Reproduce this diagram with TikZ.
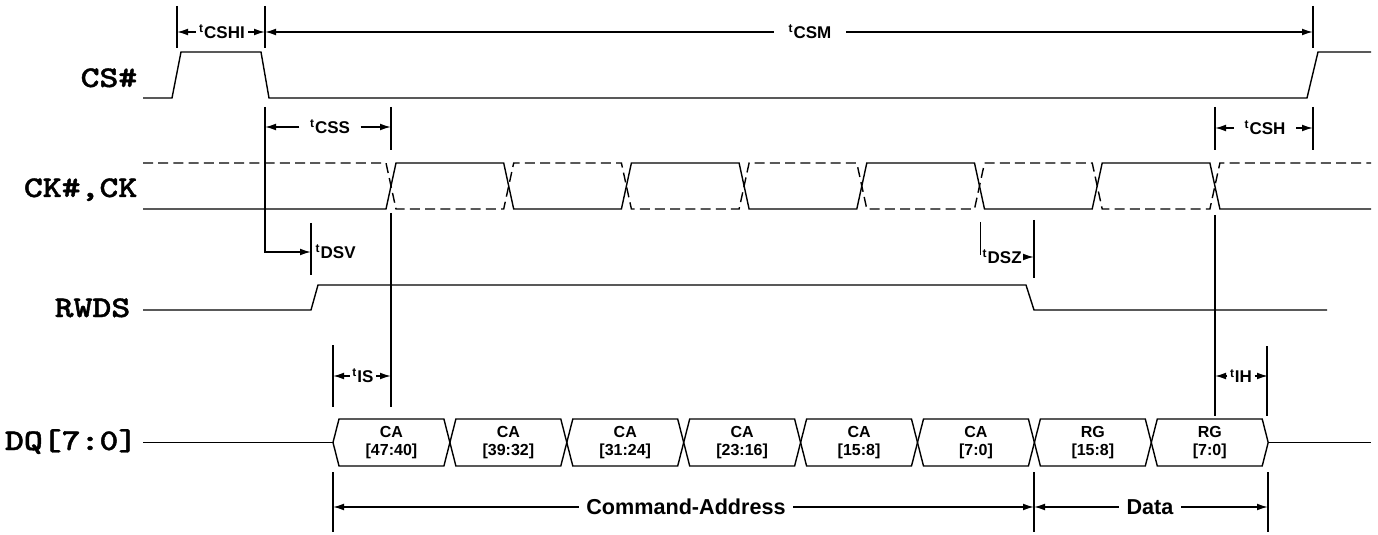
\documentclass[tikz,border=0pt]{standalone}
\usepackage{fontspec}
\setmainfont{Liberation Sans}
\newfontfamily\sigmono{lmmonolt10-bold.otf}[FakeBold=1.2]
\usetikzlibrary{arrows.meta}
\newcommand{\signame}[1]{\scalebox{1.2}[1]{#1}}

\begin{document}
\begin{tikzpicture}[x=0.5pt, y=-0.5pt, line width=0.7pt,
    dim/.style={-{Latex[length=5.5pt, width=3.4pt]}},
    dashes/.style={dash pattern=on 5pt off 2.6pt},
    sname/.style={anchor=base east, inner sep=0pt, font=\sigmono\fontsize{15}{16}\selectfont},
    tname/.style={inner sep=1.5pt, font=\bfseries\fontsize{8.5}{10}\selectfont},
    bigname/.style={inner sep=3.5pt, font=\bfseries\fontsize{10.8}{12}\selectfont},
    cell/.style={align=center, inner sep=0pt, font=\bfseries\fontsize{8}{9}\selectfont}]
  \useasboundingbox (0,0) rectangle (1378,535);

  % time marks (pixel units, y down)
  \coordinate (tA) at (177,0);  % CS# high
  \coordinate (tB) at (265,0);  % CS# low
  \coordinate (tF) at (333,0);  % first CA
  \coordinate (tC) at (391,0);  % first CK edge
  \coordinate (tG) at (1034,0); % CA / data
  \coordinate (tE) at (1215,0); % last CK edge
  \coordinate (tH) at (1268,0); % end of data
  \coordinate (tD) at (1313,0); % CS# high again

  % signal names
  \node[sname] (csname) at (138,87) {\signame{CS\#}};
  \node[sname] (ckname) at (138,197) {\signame{CK\#,CK}};
  \node[sname] (rwdsname) at (131,317) {\signame{RWDS}};
  \node[sname] (dqname) at (138,450) {\signame{DQ[7:0]}};

  % CS#
  \draw (143,98) -- (172,98) -- (181,52) -- (261,52) -- (269,98) -- (1307,98) -- (1318,52) -- (1371,52);

  % CK#, CK
  \draw (143,209) \foreach \k/\ya/\yb in {0/209/163,1/163/209,2/209/163,3/163/209,4/209/163,5/163/209,6/209/163,7/163/209}
    { -- ({391+117.7*\k-5},\ya) -- ({391+117.7*\k+5},\yb) } -- (1371,209);
  \draw[dashes] (143,163) \foreach \k/\ya/\yb in {0/163/209,1/209/163,2/163/209,3/209/163,4/163/209,5/209/163,6/163/209,7/209/163}
    { -- ({391+117.7*\k-5},\ya) -- ({391+117.7*\k+5},\yb) } -- (1371,163);

  % RWDS
  \draw (143,310) -- (311,310) -- (318,285) -- (1026,285) -- (1034,310) -- (1327,310);

  % DQ[7:0]
  \draw (143,442.5) -- (333,442.5);
  \foreach \j/\txt in {0/{CA\\{}[47:40]},1/{CA\\{}[39:32]},2/{CA\\{}[31:24]},3/{CA\\{}[23:16]},
                       4/{CA\\{}[15:8]},5/{CA\\{}[7:0]},6/{RG\\{}[15:8]},7/{RG\\{}[7:0]}} {
    \pgfmathsetmacro\xl{333+116.9*\j}
    \pgfmathsetmacro\xr{333+116.9*(\j+1)}
    \draw (\xl,442.5) -- (\xl+6,419) -- (\xr-6,419) -- (\xr,442.5) -- (\xr-6,466) -- (\xl+6,466) -- cycle;
    \node[cell] (cell\j) at ({(\xl+\xr)/2},443) {\txt};
  }
  \draw (1268,442.5) -- (1371,442.5);

  % tCSHI, tCSM
  \draw (177,6) -- (177,48);
  \draw (265,6) -- (265,48);
  \draw (1313,6) -- (1313,48);
  \node[tname] (tcshi) at (222,32) {\textsuperscript{t}CSHI};
  \draw[dim] (tcshi) -- (tcshi -| tA);
  \draw[dim] (tcshi) -- (tcshi -| tB);
  \node[tname, inner sep=7pt] (tcsm) at (810,32) {\textsuperscript{t}CSM};
  \draw[dim] (tcsm) -- (tcsm -| tB);
  \draw[dim] (tcsm) -- (tcsm -| tD);

  % tCSS, tDSV
  \coordinate (dsv) at (311,252);
  \draw[dim] (265,107) |- (dsv);
  \draw (311,223) -- (311,275);
  \node[tname, anchor=west, inner sep=1pt] (tdsv) at (313,252) {\textsuperscript{t}DSV};
  \draw (391,107) -- (391,150);
  \node[tname, inner sep=5pt] (tcss) at (330,127) {\textsuperscript{t}CSS};
  \draw[dim] (tcss) -- (tcss -| tB);
  \draw[dim] (tcss) -- (tcss -| tC);

  % tIS
  \draw (391,213) -- (391,407);
  \draw (333,345) -- (333,407);
  \node[tname, inner sep=1pt] (tis) at (363,376) {\textsuperscript{t}IS};
  \draw[dim] (tis) -- (tis -| tF);
  \draw[dim] (tis) -- (tis -| tC);

  % tCSH, tIH
  \draw (1215,107) -- (1215,150);
  \draw (1313,107) -- (1313,150);
  \node[tname, inner sep=5pt] (tcsh) at (1265,128) {\textsuperscript{t}CSH};
  \draw[dim] (tcsh) -- (tcsh -| tE);
  \draw[dim] (tcsh) -- (tcsh -| tD);
  \draw (1215,215) -- (1215,416);
  \draw (1267,346) -- (1267,416);
  \node[tname, inner sep=1pt] (tih) at (1241,376) {\textsuperscript{t}IH};
  \draw[dim] (tih) -- (tih -| tE);
  \draw[dim] (tih) -- (tih -| tH);

  % tDSZ
  \draw[line width=0.4pt] (980,222) -- (980,255);
  \draw (1034,220) -- (1034,278);
  \node[tname, anchor=west, inner sep=1pt] (tdsz) at (980,257) {\textsuperscript{t}DSZ};
  \draw[dim] (tdsz) -- (tdsz -| tG);

  % Command-Address, Data
  \draw (333,472) -- (333,532);
  \draw (1034,472) -- (1034,532);
  \draw (1268,472) -- (1268,532);
  \node[bigname] (tca) at (686,507) {Command-Address};
  \draw[dim] (tca) -- (tca -| tF);
  \draw[dim] (tca) -- (tca -| tG);
  \node[bigname] (tdata) at (1150,507) {Data};
  \draw[dim] (tdata) -- (tdata -| tG);
  \draw[dim] (tdata) -- (tdata -| tH);
\end{tikzpicture}
\end{document}
